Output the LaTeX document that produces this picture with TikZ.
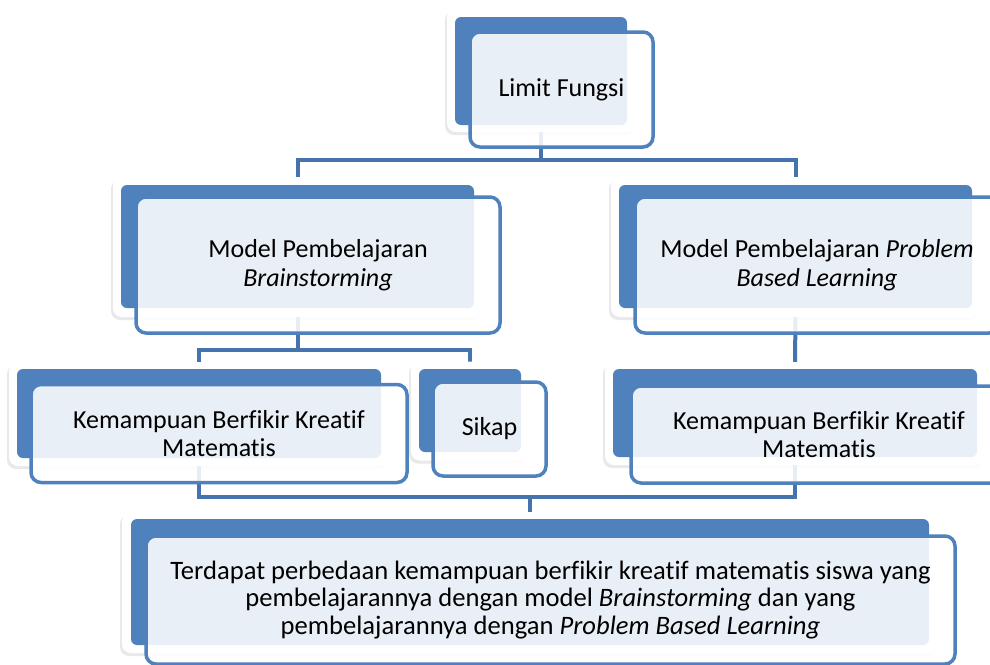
\documentclass[tikz,border=0pt]{standalone}
\usepackage{fontspec}
\setmainfont{Carlito}[Ligatures={NoCommon}]
\usetikzlibrary{shadows}
\definecolor{myblue}{HTML}{4F81BD}
\definecolor{conncol}{HTML}{4673AD}
\tikzset{
  glow/.style={fill=white, rounded corners=9pt, inner sep=0pt, draw=none,
    drop shadow={shadow xshift=-2pt, shadow yshift=-3pt, opacity=0.12, fill=black!70}},
  backbox/.style={fill=myblue, rounded corners=6pt, draw=none, inner sep=0pt},
  frontbox/.style={draw=myblue, line width=3.5pt, fill=white, fill opacity=0.88,
    text opacity=1, rounded corners=10pt, inner sep=0pt, align=center,
    font=\fontsize{26}{28.5}\selectfont},
  conn/.style={draw=conncol, line width=4pt},
}
\begin{document}
\begin{tikzpicture}[x=1pt,y=-1pt]
\useasboundingbox[fill=white] (0,0) rectangle (990,664);
% invisible anchors for connectors
\path
 node[backbox, fill=none, minimum width=172pt, minimum height=108pt] (b1) at (541,71) {}
 node[backbox, fill=none, minimum width=353pt, minimum height=123pt] (b2) at (297.5,246.5) {}
 node[backbox, fill=none, minimum width=353pt, minimum height=123pt] (b4) at (795.5,246.5) {}
 node[backbox, fill=none, minimum width=364pt, minimum height=89pt] (b3) at (199,413.5) {}
 node[backbox, fill=none, minimum width=102pt, minimum height=83pt] (b5) at (470,410.5) {}
 node[backbox, fill=none, minimum width=364pt, minimum height=88pt] (b6) at (795,413) {}
 node[backbox, fill=none, minimum width=798pt, minimum height=126pt] (b7) at (530,582) {};
% connectors
\draw[conn] (b1.south) -- ++(0,35) -| (b2.north);
\draw[conn] (b1.south) -- ++(0,35) -| (b4.north);
\draw[conn] (b2.south) -- ++(0,42) -| (b3.north);
\draw[conn] (b2.south) -- ++(0,42) -| (b5.north);
\draw[conn] (b4.south) -- (b6.north);
\draw[conn] (b3.south) -- ++(0,39) -| (b6.south);
\draw[conn] (b7.north) -- ++(0,-22);
% box 1
\node[glow, minimum width=188pt, minimum height=124pt] (g1) at (541,70) {};
\node[backbox, minimum width=172pt, minimum height=108pt] (k1) at (541,71) {};
\node[frontbox, minimum width=183pt, minimum height=115pt] (f1) at (561.5,89.5) {Limit Fungsi};
% box 2
\node[glow, minimum width=369pt, minimum height=140pt] (g2) at (297.5,247) {};
\node[backbox, minimum width=353pt, minimum height=123pt] (k2) at (297.5,246.5) {};
\node[frontbox, minimum width=364pt, minimum height=136pt] (f2) at (318,265) {Model Pembelajaran\\\textit{Brainstorming}};
% box 4
\node[glow, minimum width=369pt, minimum height=140pt] (g4) at (795.5,247) {};
\node[backbox, minimum width=353pt, minimum height=123pt] (k4) at (795.5,246.5) {};
\node[frontbox, minimum width=364pt, minimum height=136pt] (f4) at (817,265) {Model Pembelajaran \textit{Problem}\\\textit{Based Learning}};
% box 3
\node[glow, minimum width=380pt, minimum height=104pt] (g3) at (199,414) {};
\node[backbox, minimum width=364pt, minimum height=89pt] (k3) at (199,413.5) {};
\node[frontbox, minimum width=376pt, minimum height=98pt] (f3) at (219,433.5) {Kemampuan Berfikir Kreatif\\Matematis};
% box 5
\node[glow, minimum width=118pt, minimum height=99pt] (g5) at (470,411) {};
\node[backbox, minimum width=102pt, minimum height=83pt] (k5) at (470,410.5) {};
\node[frontbox, minimum width=113pt, minimum height=94pt] (f5) at (489.5,429) {Sikap};
% box 6
\node[glow, minimum width=380pt, minimum height=103pt] (g6) at (795,413.5) {};
\node[backbox, minimum width=364pt, minimum height=88pt] (k6) at (795,413) {};
\node[frontbox, minimum width=376pt, minimum height=97pt] (f6) at (819,434.5) {Kemampuan Berfikir Kreatif\\Matematis};
% box 7
\node[glow, minimum width=816pt, minimum height=141pt] (g7) at (530,582.5) {};
\node[backbox, minimum width=798pt, minimum height=126pt] (k7) at (530,582) {};
\node[frontbox, minimum width=809pt, minimum height=128pt, font=\fontsize{26.6}{27.5}\selectfont] (f7) at (550.5,600) {Terdapat perbedaan kemampuan berfikir kreatif matematis siswa yang\\pembelajarannya dengan model \textit{Brainstorming} dan yang\\pembelajarannya dengan \textit{Problem Based Learning}};
\end{tikzpicture}
\end{document}
